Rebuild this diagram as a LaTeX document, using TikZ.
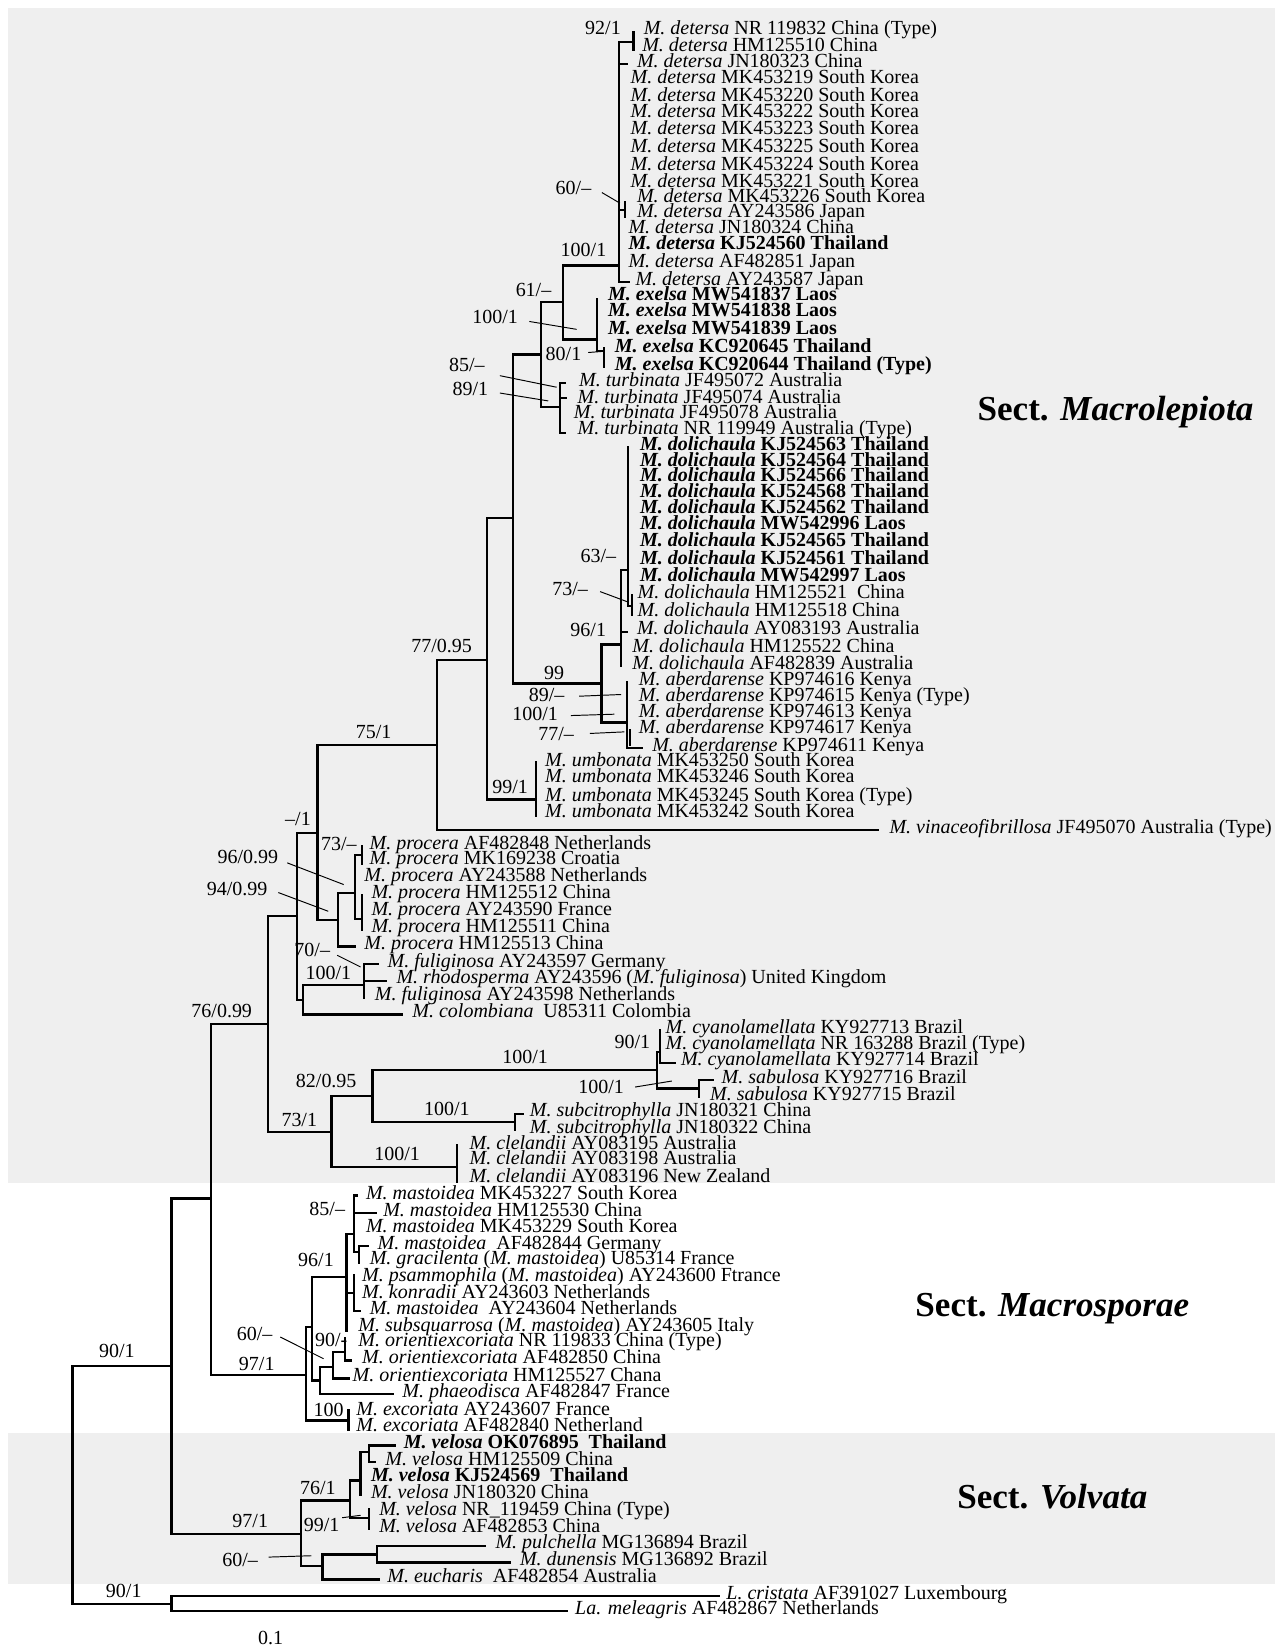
\documentclass[tikz,border=0pt]{standalone}
\usepackage{fontspec}
\setmainfont{Liberation Serif}
\definecolor{bg}{RGB}{239,239,239}
\tikzset{
  br/.style={line width=1.3pt, line cap=rect},
  ptr/.style={line width=0.55pt},
  leaf/.style={anchor=base west, inner sep=0pt, font=\fontsize{11.4}{13}\selectfont},
  bs/.style={inner sep=0pt, font=\fontsize{11.4}{13}\selectfont},
  sectlab/.style={inner sep=0pt, font=\fontsize{20}{24}\selectfont\bfseries}
}
\newcommand{\mylf}[5]{\node[leaf] (l#1) at ({#2},{#3+3}) {\textit{#4} #5};}
\newcommand{\mylfb}[5]{\node[leaf] (l#1) at ({#2},{#3+3}) {\textbf{\textit{#4} #5}};}
\newcommand{\mylab}[4]{\node[bs] (#1) at (#2,#3) {#4};}
\newcommand{\nd}{\textendash}
\begin{document}
\begin{tikzpicture}[x=0.6pt,y=-0.6pt]
\useasboundingbox (0,0) rectangle (1212,1568);
\fill[bg] (8,8) rectangle (1212,1124);
\fill[bg] (8,1362) rectangle (1212,1505);

% ---------- leaves ----------
\mylf{1}{611.5}{30}{M. detersa}{NR 119832 China (Type)}
\mylf{2}{610}{46}{M. detersa}{HM125510 China}
\mylf{3}{605}{61}{M. detersa}{JN180323 China}
\mylf{4}{599}{76}{M. detersa}{MK453219 South Korea}
\mylf{5}{599}{93}{M. detersa}{MK453220 South Korea}
\mylf{6}{599}{109}{M. detersa}{MK453222 South Korea}
\mylf{7}{599}{125}{M. detersa}{MK453223 South Korea}
\mylf{8}{599}{142}{M. detersa}{MK453225 South Korea}
\mylf{9}{599}{159}{M. detersa}{MK453224 South Korea}
\mylf{10}{599}{175}{M. detersa}{MK453221 South Korea}
\mylf{11}{605}{189}{M. detersa}{MK453226 South Korea}
\mylf{12}{605}{204}{M. detersa}{AY243586 Japan}
\mylf{13}{597}{219}{M. detersa}{JN180324 China}
\mylfb{14}{597}{234}{M. detersa}{KJ524560 Thailand}
\mylf{15}{597}{251}{M. detersa}{AF482851 Japan}
\mylf{16}{603.6}{268}{M. detersa}{AY243587 Japan}
\mylfb{17}{577.5}{283}{M. exelsa}{MW541837 Laos}
\mylfb{18}{577.5}{298}{M. exelsa}{MW541838 Laos}
\mylfb{19}{577.5}{315}{M. exelsa}{MW541839 Laos}
\mylfb{20}{584}{332}{M. exelsa}{KC920645 Thailand}
\mylfb{21}{584}{349}{M. exelsa}{KC920644 Thailand (Type)}
\mylf{22}{550}{364}{M. turbinata}{JF495072 Australia}
\mylf{23}{548.6}{380}{M. turbinata}{JF495074 Australia}
\mylf{24}{545}{395}{M. turbinata}{JF495078 Australia}
\mylf{25}{548.6}{410}{M. turbinata}{NR 119949 Australia (Type)}
\mylfb{26}{608}{425}{M. dolichaula}{KJ524563 Thailand}
\mylfb{27}{608}{440}{M. dolichaula}{KJ524564 Thailand}
\mylfb{28}{608}{455}{M. dolichaula}{KJ524566 Thailand}
\mylfb{29}{608}{470}{M. dolichaula}{KJ524568 Thailand}
\mylfb{30}{608}{485}{M. dolichaula}{KJ524562 Thailand}
\mylfb{31}{608}{500}{M. dolichaula}{MW542996 Laos}
\mylfb{32}{608}{516}{M. dolichaula}{KJ524565 Thailand}
\mylfb{33}{608}{533}{M. dolichaula}{KJ524561 Thailand}
\mylfb{34}{608}{550}{M. dolichaula}{MW542997 Laos}
\mylf{35}{605.7}{566}{M. dolichaula}{HM125521\ \ China}
\mylf{36}{605.7}{583}{M. dolichaula}{HM125518 China}
\mylf{37}{605}{600}{M. dolichaula}{AY083193 Australia}
\mylf{38}{600.6}{617}{M. dolichaula}{HM125522 China}
\mylf{39}{600.6}{633}{M. dolichaula}{AF482839 Australia}
\mylf{40}{606.8}{648}{M. aberdarense}{KP974616 Kenya}
\mylf{41}{606.8}{664}{M. aberdarense}{KP974615 Kenya (Type)}
\mylf{42}{606.8}{679}{M. aberdarense}{KP974613 Kenya}
\mylf{43}{606.8}{694}{M. aberdarense}{KP974617 Kenya}
\mylf{44}{619.5}{711}{M. aberdarense}{KP974611 Kenya}
\mylf{45}{517.7}{725}{M. umbonata}{MK453250 South Korea}
\mylf{46}{517.7}{741}{M. umbonata}{MK453246 South Korea}
\mylf{47}{517.7}{759}{M. umbonata}{MK453245 South Korea (Type)}
\mylf{48}{517.7}{774}{M. umbonata}{MK453242 South Korea}
\mylf{49}{845}{789}{M. vinaceofibrillosa}{JF495070 Australia (Type)}
\mylf{50}{351}{804}{M. procera}{AF482848 Netherlands}
\mylf{51}{351}{819}{M. procera}{MK169238 Croatia}
\mylf{52}{346}{835}{M. procera}{AY243588 Netherlands}
\mylf{53}{352.7}{851}{M. procera}{HM125512 China}
\mylf{54}{352.7}{867}{M. procera}{AY243590 France}
\mylf{55}{352.7}{883}{M. procera}{HM125511 China}
\mylf{56}{346}{899.5}{M. procera}{HM125513 China}
\mylf{57}{368}{916}{M. fuliginosa}{AY243597 Germany}
\mylf{58}{376.5}{932}{M. rhodosperma}{AY243596 (\textit{M. fuliginosa}) United Kingdom}
\mylf{59}{356}{948}{M. fuliginosa}{AY243598 Netherlands}
\mylf{60}{391.6}{964}{M. colombiana}{\ U85311 Colombia}
\mylf{61}{632.2}{979}{M. cyanolamellata}{KY927713 Brazil}
\mylf{62}{632.2}{994}{M. cyanolamellata}{NR 163288 Brazil (Type)}
\mylf{63}{646.9}{1010}{M. cyanolamellata}{KY927714 Brazil}
\mylf{64}{685.4}{1026.6}{M. sabulosa}{KY927716 Brazil}
\mylf{65}{674.5}{1042.5}{M. sabulosa}{KY927715 Brazil}
\mylf{66}{503.2}{1058.3}{M. subcitrophylla}{JN180321 China}
\mylf{67}{503.2}{1074}{M. subcitrophylla}{JN180322 China}
\mylf{68}{446}{1089}{M. clelandii}{AY083195 Australia}
\mylf{69}{446}{1104}{M. clelandii}{AY083198 Australia}
\mylf{70}{446}{1121}{M. clelandii}{AY083196 New Zealand}
\mylf{71}{347.5}{1137}{M. mastoidea}{MK453227 South Korea}
\mylf{72}{363.9}{1153}{M. mastoidea}{HM125530 China}
\mylf{73}{347.5}{1168}{M. mastoidea}{MK453229 South Korea}
\mylf{74}{358.5}{1184}{M. mastoidea}{\ AF482844 Germany}
\mylf{75}{351.1}{1199}{M. gracilenta}{(\textit{M. mastoidea}) U85314 France}
\mylf{76}{343.9}{1215}{M. psammophila}{(\textit{M. mastoidea}) AY243600 Ftrance}
\mylf{77}{343.9}{1231}{M. konradii}{AY243603 Netherlands}
\mylf{78}{351.1}{1246}{M. mastoidea}{\ AY243604 Netherlands}
\mylf{79}{340.3}{1262}{M. subsquarrosa}{(\textit{M. mastoidea}) AY243605 Italy}
\mylf{80}{340.3}{1277}{M. orientiexcoriata}{NR 119833 China (Type)}
\mylf{81}{343.9}{1293}{M. orientiexcoriata}{AF482850 China}
\mylf{82}{334.8}{1310}{M. orientiexcoriata}{HM125527 Chana}
\mylf{83}{382.1}{1325}{M. phaeodisca}{AF482847 France}
\mylf{84}{338.4}{1342}{M. excoriata}{AY243607 France}
\mylf{85}{338.4}{1357}{M. excoriata}{AF482840 Netherland}
\mylfb{86}{383.4}{1373.6}{M. velosa}{OK076895\ \ Thailand}
\mylf{87}{365.9}{1389.4}{M. velosa}{HM125509 China}
\mylfb{88}{352.3}{1405}{M. velosa}{KJ524569\ \ Thailand}
\mylf{89}{352.3}{1421}{M. velosa}{JN180320 China}
\mylf{90}{360.1}{1437}{M. velosa}{NR\_119459 China (Type)}
\mylf{91}{360.1}{1453}{M. velosa}{AF482853 China}
\mylf{92}{470.6}{1469}{M. pulchella}{MG136894 Brazil}
\mylf{93}{493.9}{1485}{M. dunensis}{MG136892 Brazil}
\mylf{94}{367.8}{1501}{M. eucharis}{\ AF482854 Australia}
\mylf{95}{690}{1517}{L. cristata}{AF391027 Luxembourg}
\mylf{96}{546.3}{1531}{La. meleagris}{AF482867 Netherlands}

% ---------- branches ----------
\draw[br] (163,1298) -- (69,1298) -- (69,1524) -- (163,1524);
\draw[br] (683,1517) -- (163,1517) -- (163,1531) -- (538.5,1531);
\draw[br] (200.6,1139) -- (163,1139) -- (163,1457.5) -- (286.3,1457.5);
\draw[br] (254.5,973) -- (200.6,973) -- (200.6,1306.7) -- (291,1306.7);
\draw[br] (282.4,870.7) -- (254.5,870.7) -- (254.5,1076) -- (315,1076);
\draw[br] (301.8,791.5) -- (282.4,791.5) -- (282.4,950) -- (288.2,950);
\draw[br] (346,936.3) -- (288.2,936.3) -- (288.2,964) -- (381.6,964);
\draw[br] (359.5,916) -- (346,916) -- (346,948);
\draw[br] (346,932) -- (366.3,932);
\draw[br] (415.5,708.2) -- (301.8,708.2) -- (301.8,874.5) -- (321.2,874.5);
\draw[br] (337.5,848.5) -- (321.2,848.5) -- (321.2,899.5) -- (337,899.5);
\draw[br] (344,812.7) -- (337.5,812.7) -- (337.5,873) -- (344,873);
\draw[br] (344,804) -- (344,821);
\draw[br] (344,851) -- (344,884);
\draw[br] (462.6,627.4) -- (415.5,627.4) -- (415.5,789) -- (834,789);
\draw[br] (487.3,492.3) -- (462.6,492.3) -- (462.6,759.8) -- (509.6,759.8);
\draw[br] (509.6,724) -- (509.6,775);
\draw[br] (514,337) -- (487.3,337) -- (487.3,649.4) -- (571.5,649.4);
\draw[br] (535,287.2) -- (514,287.2) -- (514,386.5) -- (532.3,386.5);
\draw[br] (588.4,252.3) -- (535,252.3) -- (535,322.5) -- (567.3,322.5);
\draw[br] (602,39.6) -- (588.4,39.6) -- (588.4,268) -- (598,268);
\draw[br] (602,31) -- (602,47);
\draw[br] (588.4,61) -- (596,61);
\draw[br] (588.4,199.5) -- (594,199.5);
\draw[br] (594,192) -- (594,206);
\draw[br] (567.3,284) -- (567.3,333.7) -- (574,333.7);
\draw[br] (574,331) -- (574,349);
\draw[br] (537,364.3) -- (532.3,364.3) -- (532.3,411.8) -- (537,411.8);
\draw[br] (532.3,378) -- (538,378);
\draw[br] (590,612.6) -- (571.5,612.6) -- (571.5,686.5) -- (595.8,686.5);
\draw[br] (597,541.8) -- (590,541.8) -- (590,633);
\draw[br] (590,600.8) -- (596,600.8);
\draw[br] (597,425) -- (597,576) -- (600.5,576);
\draw[br] (600.5,566) -- (600.5,584);
\draw[br] (595.8,648) -- (595.8,711) -- (610,711);
\draw[br] (598.5,694) -- (598.5,708);
\draw[br] (354,1041.8) -- (315,1041.8) -- (315,1109) -- (434.6,1109);
\draw[br] (624.5,1016.5) -- (354,1016.5) -- (354,1066.2) -- (489.3,1066.2);
\draw[br] (627,1000) -- (624.5,1000) -- (624.5,1034.5) -- (664.2,1034.5);
\draw[br] (627,979) -- (627,1010) -- (641,1010);
\draw[br] (677.7,1026.6) -- (664.2,1026.6) -- (664.2,1042.5);
\draw[br] (496.8,1058.3) -- (489.3,1058.3) -- (489.3,1074);
\draw[br] (434.6,1088.4) -- (434.6,1123);
\draw[br] (296.6,1261.1) -- (291,1261.1) -- (291,1349.8) -- (331.2,1349.8);
\draw[br] (331.2,1340.3) -- (331.2,1359);
\draw[br] (329.4,1213.6) -- (296.6,1213.6) -- (296.6,1311.8) -- (303.9,1311.8);
\draw[br] (336.6,1172.4) -- (329.4,1172.4) -- (329.4,1264.3);
\draw[br] (339.2,1136) -- (336.6,1136) -- (336.6,1190) -- (341.4,1190);
\draw[br] (336.6,1153) -- (356.7,1153);
\draw[br] (349.3,1184) -- (341.4,1184) -- (341.4,1200);
\draw[br] (329.4,1229) -- (336.6,1229);
\draw[br] (336.6,1212) -- (336.6,1246) -- (342,1246);
\draw[br] (316.6,1299.1) -- (303.9,1299.1) -- (303.9,1325) -- (373,1325);
\draw[br] (327.6,1284.9) -- (316.6,1284.9) -- (316.6,1310) -- (331.2,1310);
\draw[br] (327.6,1272) -- (327.6,1293) -- (333,1293);
\draw[br] (332.9,1425.9) -- (286.3,1425.9) -- (286.3,1488.3) -- (306.5,1488.3);
\draw[br] (342.6,1406.8) -- (332.9,1406.8) -- (332.9,1442.3) -- (350.4,1442.3);
\draw[br] (350.4,1380) -- (342.6,1380) -- (342.6,1421);
\draw[br] (375.6,1373.6) -- (350.4,1373.6) -- (350.4,1389.4) -- (356.2,1389.4);
\draw[br] (350.4,1433.8) -- (350.4,1453);
\draw[br] (358.1,1477.2) -- (306.5,1477.2) -- (306.5,1501) -- (360.1,1501);
\draw[br] (460.9,1469) -- (358.1,1469) -- (358.1,1484.8) -- (484.2,1484.8);

% ---------- support labels ----------
\mylab{s1}{573}{27}{92/1}
\mylab{s2}{545}{179}{60/\nd}
\mylab{s3}{554.5}{238}{100/1}
\mylab{s4}{507}{276}{61/\nd}
\mylab{s5}{470.5}{301}{100/1}
\mylab{s6}{535.5}{336}{80/1}
\mylab{s7}{443.6}{347}{85/\nd}
\mylab{s8}{447}{370}{89/1}
\mylab{s9}{568.7}{528}{63/\nd}
\mylab{s10}{541.8}{559.5}{73/\nd}
\mylab{s11}{559}{598.5}{96/1}
\mylab{s12}{526.6}{640}{99}
\mylab{s13}{519.5}{660.6}{89/\nd}
\mylab{s14}{508.6}{678.7}{100/1}
\mylab{s15}{528.5}{697.7}{77/\nd}
\mylab{s16}{419.7}{614}{77/0.95}
\mylab{s17}{484.8}{747.8}{99/1}
\mylab{s18}{355}{695.3}{75/1}
\mylab{s19}{283.2}{778}{\nd/1}
\mylab{s20}{322}{802.3}{73/\nd}
\mylab{s21}{235.6}{814.3}{96/0.99}
\mylab{s22}{225.3}{844.4}{94/0.99}
\mylab{s23}{296.7}{903}{70/\nd}
\mylab{s24}{312}{924.6}{100/1}
\mylab{s25}{210.7}{961}{76/0.99}
\mylab{s26}{601}{990}{90/1}
\mylab{s27}{499}{1004.4}{100/1}
\mylab{s28}{310}{1027.3}{82/0.95}
\mylab{s29}{571.3}{1033}{100/1}
\mylab{s30}{424.6}{1053.6}{100/1}
\mylab{s31}{284.4}{1064}{73/1}
\mylab{s32}{377.4}{1096.3}{100/1}
\mylab{s33}{311}{1148.6}{85/\nd}
\mylab{s34}{300.3}{1197.7}{96/1}
\mylab{s35}{242}{1267.4}{60/\nd}
\mylab{s36}{314.8}{1273.8}{90/-}
\mylab{s37}{111}{1284}{90/1}
\mylab{s38}{244}{1296.6}{97/1}
\mylab{s39}{312.3}{1339.7}{100}
\mylab{s40}{302}{1413.8}{76/1}
\mylab{s41}{237.8}{1445.5}{97/1}
\mylab{s42}{305.7}{1448.7}{99/1}
\mylab{s43}{228.1}{1482.2}{60/\nd}
\mylab{s44}{117.6}{1511.4}{90/1}
\mylab{s45}{257.2}{1557}{0.1}

% ---------- pointer lines ----------
\draw[ptr] (572,183) -- (589,193);
\draw[ptr] (503,305.5) -- (548,313);
\draw[ptr] (559,335) -- (572,334);
\draw[ptr] (475,357) -- (529,368);
\draw[ptr] (475,373.5) -- (521,381);
\draw[ptr] (570.3,562.2) -- (597.3,572.3);
\draw[ptr] (550.4,661.6) -- (590.3,660);
\draw[ptr] (542.4,680) -- (583.8,678.7);
\draw[ptr] (560.6,697) -- (593.3,695.5);
\draw[ptr] (273,820) -- (326.6,840.6);
\draw[ptr] (264.5,848.2) -- (312,866);
\draw[ptr] (320.4,907.8) -- (342.6,918.9);
\draw[ptr] (603.6,1033) -- (638.4,1027.3);
\draw[ptr] (266.4,1270.6) -- (307.5,1291.2);
\draw[ptr] (325.1,1442.3) -- (342.6,1440);
\draw[ptr] (255.3,1479.7) -- (296,1478.4);

% ---------- section labels ----------
\node[sectlab] (secA) at (1060,392) {Sect. \textit{Macrolepiota}};
\node[sectlab] (secB) at (1000,1244) {Sect. \textit{Macrosporae}};
\node[sectlab] (secC) at (1000,1422) {Sect. \textit{Volvata}};
\end{tikzpicture}
\end{document}
